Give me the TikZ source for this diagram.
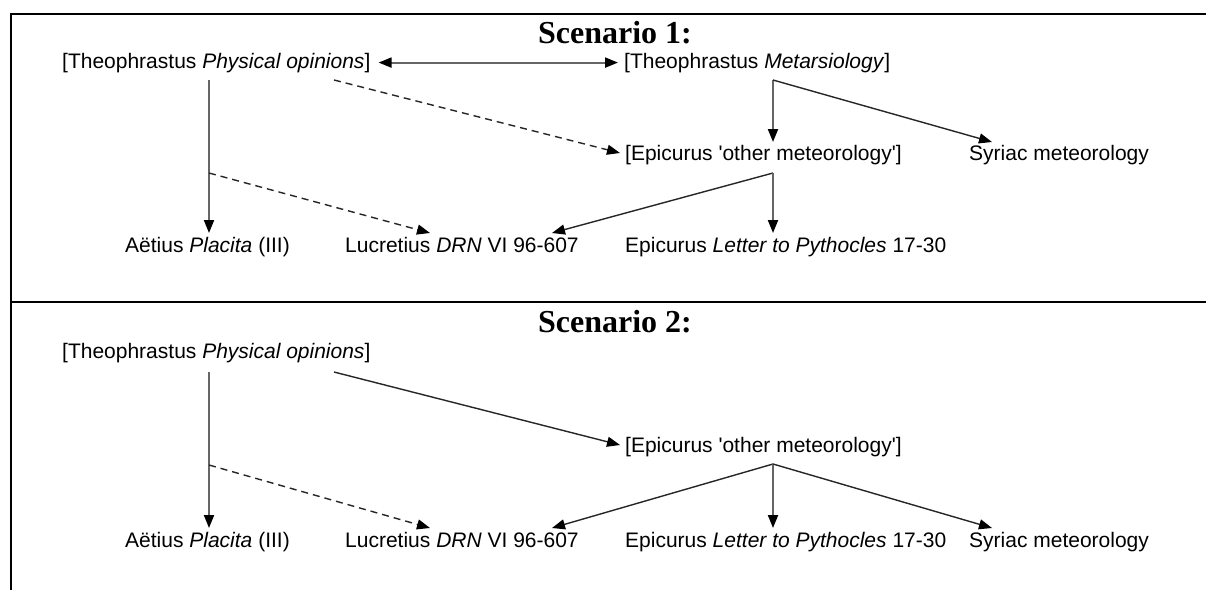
\documentclass[tikz,border=0pt]{standalone}
\usepackage{fontspec}
\setmainfont{Liberation Sans}
\newfontfamily\ttlfont{Liberation Serif}
\usetikzlibrary{arrows.meta}
\begin{document}
\begin{tikzpicture}[x=1pt,y=-1pt,
  lbl/.style={anchor=base west, inner sep=0pt, font=\fontsize{21pt}{25pt}\selectfont},
  ttlstyle/.style={anchor=base, inner sep=0pt, font=\ttlfont\bfseries\fontsize{32pt}{38pt}\selectfont},
  frameline/.style={line width=1.6pt, black},
  tipa/.tip={Triangle[length=13pt,width=10pt,color=black]},
  arr/.style={-tipa, line width=1.4pt, black!85},
  arrv/.style={-tipa, line width=2pt, black!60},
  dsh/.style={arr, dash pattern=on 7pt off 5pt}
]
\useasboundingbox (0,0) rectangle (1206,590);
\fill[white] (0,0) rectangle (1206,590);

% frame
\draw[frameline] (11,590) -- (11,14) -- (1206,14);
\draw[frameline] (11,302) -- (1206,302);

% ---------------- Scenario 1 ----------------
\node[ttlstyle] (h1) at (615,43) {Scenario 1:};
\node[lbl] (T1) at (62,68) {[Theophrastus \textit{Physical opinions}]};
\node[lbl] (M)  at (624,68) {[Theophrastus \textit{Metarsiology}]};
\node[lbl] (E1) at (625,160) {[Epicurus \textquotesingle other meteorology\textquotesingle]};
\node[lbl] (S1) at (969,160) {Syriac meteorology};
\node[lbl] (A1) at (125,252) {Aëtius \textit{Placita} (III)};
\node[lbl] (L1) at (345,252) {Lucretius \textit{DRN} VI 96-607};
\node[lbl] (P1) at (625,252) {Epicurus \textit{Letter to Pythocles} 17-30};

\coordinate (t1v) at (209,80);
\coordinate (t1d) at (209,173);
\coordinate (t1r) at (334,80);
\coordinate (mb)  at (773,80);
\coordinate (e1b) at (773,173);
\coordinate (a1t) at (209,233);
\coordinate (l1t) at (430,233);
\coordinate (l1r) at (552,233);
\coordinate (p1t) at (773,233);
\coordinate (e1t) at (773,142);
\coordinate (s1t) at (992,142);
\coordinate (e1l) at (620,153);

\draw[arrv, tipa-tipa, shorten <=8pt, shorten >=6pt] (T1.east) -- (M.west);
\draw[arrv] (mb) -- (e1t);
\draw[arr] (mb) -- (s1t);
\draw[dsh] (t1r) -- (e1l);
\draw[arrv] (t1v) -- (a1t);
\draw[dsh] (t1d) -- (l1t);
\draw[arr] (e1b) -- (l1r);
\draw[arrv] (e1b) -- (p1t);

% ---------------- Scenario 2 ----------------
\node[ttlstyle] (h2) at (615,332) {Scenario 2:};
\node[lbl] (T2) at (62,358) {[Theophrastus \textit{Physical opinions}]};
\node[lbl] (E2) at (625,452) {[Epicurus \textquotesingle other meteorology\textquotesingle]};
\node[lbl] (A2) at (125,547) {Aëtius \textit{Placita} (III)};
\node[lbl] (L2) at (345,547) {Lucretius \textit{DRN} VI 96-607};
\node[lbl] (P2) at (625,547) {Epicurus \textit{Letter to Pythocles} 17-30};
\node[lbl] (S2) at (969,547) {Syriac meteorology};

\coordinate (t2v) at (209,372);
\coordinate (t2d) at (209,465);
\coordinate (t2r) at (334,372);
\coordinate (e2b) at (773,464);
\coordinate (a2t) at (209,528);
\coordinate (l2t) at (430,528);
\coordinate (l2r) at (552,528);
\coordinate (p2t) at (773,528);
\coordinate (s2t) at (992,528);
\coordinate (e2l) at (620,445);

\draw[arrv] (t2v) -- (a2t);
\draw[dsh] (t2d) -- (l2t);
\draw[arr] (t2r) -- (e2l);
\draw[arr] (e2b) -- (l2r);
\draw[arrv] (e2b) -- (p2t);
\draw[arr] (e2b) -- (s2t);
\end{tikzpicture}
\end{document}
